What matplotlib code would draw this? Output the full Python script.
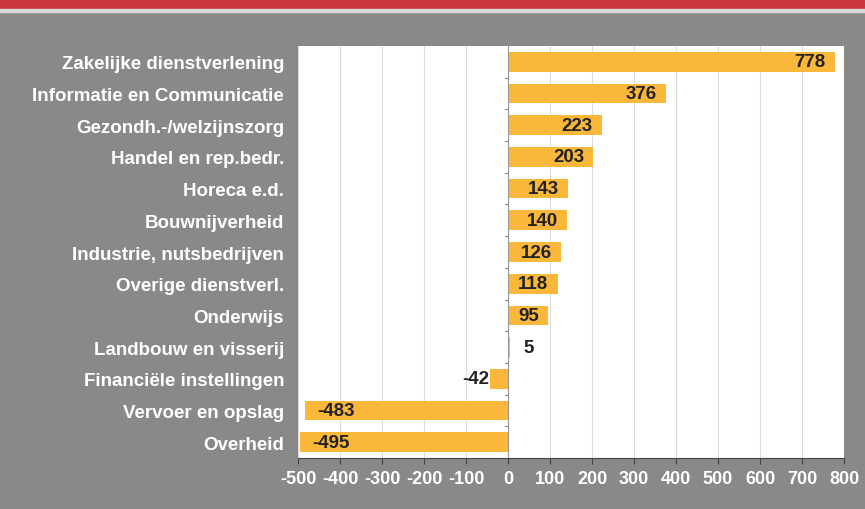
import matplotlib.pyplot as plt
import numpy as np

plt.rcParams['font.family'] = ['Liberation Sans', 'DejaVu Sans']

# data, top to bottom as in the chart
sectoren = ['Zakelijke dienstverlening', 'Informatie en Communicatie',
            'Gezondh.-/welzijnszorg', 'Handel en rep.bedr.', 'Horeca e.d.',
            'Bouwnijverheid', 'Industrie, nutsbedrijven', 'Overige dienstverl.',
            'Onderwijs', 'Landbouw en visserij', 'Financiële instellingen',
            'Vervoer en opslag', 'Overheid']
saldo = [778, 376, 223, 203, 143, 140, 126, 118, 95, 5, -42, -483, -495]
x_ticks = [-500, -400, -300, -200, -100, 0, 100, 200, 300, 400, 500, 600, 700, 800]

bg = '#898989'
bar_col = '#f9b83a'

fig = plt.figure(figsize=(8.65, 5.1), dpi=100, facecolor=bg)
# red band at the top
fig.patches.append(plt.Rectangle((0, 1 - 10 / 510), 1, 10 / 510, transform=fig.transFigure,
                                 color='#c9363b', zorder=0))
fig.patches.append(plt.Rectangle((0, 1 - 13 / 510), 1, 3 / 510, transform=fig.transFigure,
                                 color='#d9d9d9', zorder=0))

ax = fig.add_axes([298 / 865, 1 - 459 / 510, (844 - 298) / 865, (459 - 47) / 510])
ax.set_facecolor('white')

y = np.arange(len(sectoren))[::-1]
ax.barh(y, saldo, height=0.62, color=bar_col, zorder=2)
ax.set_xlim(-500, 800)
ax.set_ylim(-0.5, len(sectoren) - 0.5)

lbl = dict(va='center', fontsize=13.5, fontweight='bold', color='#222222', zorder=3)
for yi, v in zip(y, saldo):
    if v >= 50:
        ax.text(v - 22, yi, str(v), ha='right', **lbl)
    elif v >= 0:
        ax.text(v + 45, yi, str(v), ha='center', **lbl)
    elif v > -60:
        ax.text(v - 3, yi, str(v), ha='right', **lbl)
    else:
        ax.text(v + 30, yi, str(v), ha='left', **lbl)

ax.set_xticks(x_ticks)
ax.set_xticklabels([str(t) for t in x_ticks], fontsize=13, fontweight='bold', color='white')
ax.grid(axis='x', color='#dcdcdc', linewidth=0.8, zorder=1)

ax.set_yticks(y)
ax.set_yticklabels(sectoren, fontsize=13.5, fontweight='bold', color='white')
ax.tick_params(axis='y', length=0, pad=10)
ax.tick_params(axis='x', length=4, color='#444444', pad=5)

# vertical axis at 0 with ticks between categories
ax.axvline(0, color='#999999', linewidth=0.8, zorder=3)
for b in np.arange(0.5, len(sectoren) - 0.5, 1):
    ax.plot([-8, 0], [b, b], color='#888888', linewidth=0.8, zorder=3)

for s in ['top', 'right', 'left']:
    ax.spines[s].set_visible(False)
ax.spines['bottom'].set_color('#444444')

fig.savefig('out.png', dpi=100, facecolor=bg)
